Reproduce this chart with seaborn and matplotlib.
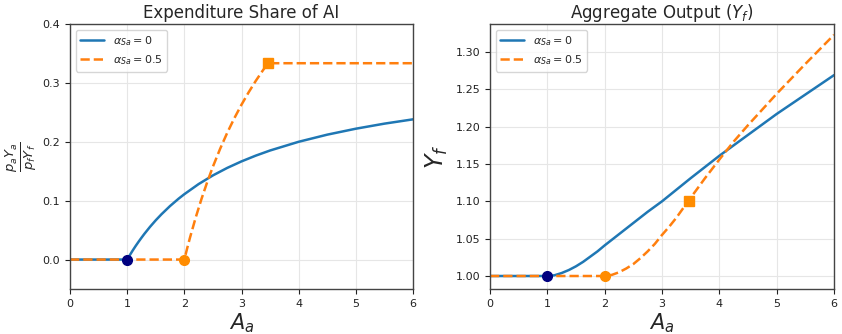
import matplotlib
matplotlib.use("Agg")
import matplotlib.pyplot as plt
import seaborn as sns
import numpy as np

# ---- data ----
# Left panel: expenditure share of AI
share_x_a0 = [0.0, 0.5, 1.0, 1.02, 1.05, 1.1, 1.15, 1.2, 1.25, 1.3, 1.4, 1.5, 1.6, 1.75, 1.9, 2.0,
              2.25, 2.5, 2.75, 3.0, 3.25, 3.5, 4.0, 4.5, 5.0, 5.5, 6.0]
share_y_a0 = [0.0, 0.0, 0.0, 0.0033, 0.0081, 0.0159, 0.0233, 0.0303, 0.037, 0.0435, 0.0556,
              0.0667, 0.0769, 0.0909, 0.1034, 0.111, 0.1282, 0.1429, 0.1556, 0.1667, 0.1765,
              0.1852, 0.200, 0.2121, 0.2222, 0.2308, 0.2381]
share_x_a5 = [0.0, 0.5, 1.0, 1.5, 2.0, 2.05, 2.1, 2.2, 2.3, 2.4, 2.5, 2.625, 2.75, 2.875, 3.0,
              3.125, 3.25, 3.375, 3.464, 4.0, 5.0, 6.0]
share_y_a5 = [0.0, 0.0, 0.0, 0.0, 0.0, 0.0192, 0.0376, 0.0717, 0.1029, 0.1315, 0.1578, 0.1878,
              0.2152, 0.2401, 0.263, 0.284, 0.3035, 0.3214, 0.3334, 0.3334, 0.3334, 0.3334]

# Right panel: aggregate output
out_x_a0 = [0.0, 0.5, 1.0, 1.125, 1.25, 1.375, 1.5, 1.625, 1.75, 1.875, 2.0, 2.25, 2.5, 2.75,
            3.0, 3.5, 4.0, 4.5, 5.0, 5.5, 6.0]
out_y_a0 = [1.0, 1.0, 1.0, 1.001, 1.004, 1.008, 1.013, 1.019, 1.026, 1.033, 1.041, 1.056,
            1.071, 1.086, 1.100, 1.131, 1.161, 1.189, 1.217, 1.243, 1.269]
out_x_a5 = [0.0, 0.5, 1.0, 1.5, 2.0, 2.125, 2.25, 2.375, 2.5, 2.625, 2.75, 2.875, 3.0, 3.125,
            3.25, 3.464, 3.75, 4.0, 4.25, 4.5, 5.0, 5.5, 6.0]
out_y_a5 = [1.0, 1.0, 1.0, 1.0, 1.0, 1.0015, 1.005, 1.010, 1.016, 1.024, 1.033, 1.043, 1.055,
            1.066, 1.078, 1.101, 1.131, 1.156, 1.180, 1.202, 1.244, 1.284, 1.323]

# Threshold markers: (A, share, output)
thr_a0 = (1.0, 0.0, 1.0)
thr_a5 = (2.0, 0.0, 1.0)
cap_a5 = (3.464, 0.3334, 1.101)

labels = [r'$\alpha_{Sa} = 0$', r'$\alpha_{Sa} = 0.5$']
titles = ['Expenditure Share of AI', r'Aggregate Output ($Y_f$)']
ylabels = [r'$\frac{p_a Y_a}{p_f Y_f}$', r'$Y_f$']
xlabel = r'$A_a$'

sns.set_theme(style="ticks")
plt.rcParams['font.family'] = ['DejaVu Sans']
plt.rcParams['mathtext.fontset'] = 'dejavusans'

blue = '#1f77b4'
orange = '#ff7f0e'

fig = plt.figure(figsize=(8.42, 3.34), dpi=100)
ax1 = fig.add_axes([70/842, 1-289/334, 343/842, 265/334])
ax2 = fig.add_axes([490/842, 1-289/334, 344/842, 265/334])

panels = [
    (ax1, share_x_a0, share_y_a0, share_x_a5, share_y_a5, 1),
    (ax2, out_x_a0, out_y_a0, out_x_a5, out_y_a5, 2),
]
for ax, x0, y0, x5, y5, k in panels:
    sns.lineplot(x=x0, y=y0, ax=ax, color=blue, linewidth=1.8, label=labels[0])
    sns.lineplot(x=x5, y=y5, ax=ax, color=orange, linewidth=1.8, linestyle='--',
                 label=labels[1])
    ax.plot([thr_a0[0]], [thr_a0[k]], 'o', color='navy', markersize=7, zorder=5)
    ax.plot([thr_a5[0]], [thr_a5[k]], 'o', color='darkorange', markersize=7, zorder=5)
    ax.plot([cap_a5[0]], [cap_a5[k]], 's', color='darkorange', markersize=7.5, zorder=5)
    ax.set_xlim(0, 6)
    ax.grid(True, color='#e6e6e6', linewidth=0.8)
    ax.set_axisbelow(True)
    for sp in ax.spines.values():
        sp.set_color('#444444')
        sp.set_linewidth(1.0)
    ax.tick_params(labelsize=8, length=3.5, width=0.8, colors='#222222')
    ax.set_xlabel(xlabel, fontsize=15, labelpad=2)
    ax.set_title(titles[k-1], fontsize=12, pad=4)
    ax.legend(loc='upper left', fontsize=8, frameon=True, fancybox=True,
              framealpha=0.8, edgecolor='#cccccc', handlelength=2.2)

ax1.set_ylim(-0.05, 0.4)
ax1.set_yticks([0.0, 0.1, 0.2, 0.3, 0.4])
ax1.set_yticklabels(['0.0', '0.1', '0.2', '0.3', '0.4'])
ax1.set_ylabel(ylabels[0], fontsize=13.5)
ax1.yaxis.set_label_coords(-0.09, 0.5)

ax2.set_ylim(0.9826, 1.3375)
yt = [1.00, 1.05, 1.10, 1.15, 1.20, 1.25, 1.30]
ax2.set_yticks(yt)
ax2.set_yticklabels([f'{v:.2f}' for v in yt])
ax2.set_ylabel(ylabels[1], fontsize=17, labelpad=4)

fig.savefig('out.png', dpi=100)
